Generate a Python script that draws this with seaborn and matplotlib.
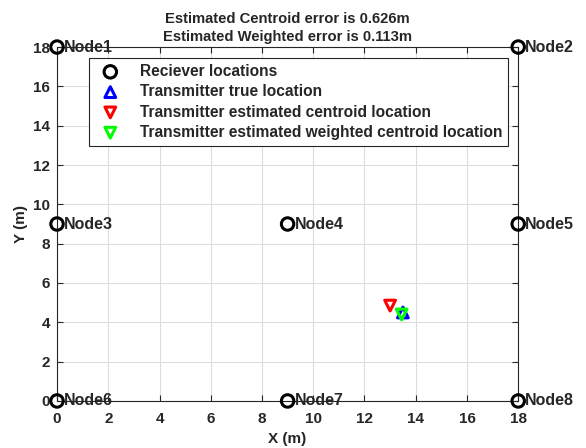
import matplotlib
matplotlib.use("Agg")
import matplotlib.pyplot as plt
import seaborn as sns
import pandas as pd

sns.set_style("whitegrid")
plt.rcParams['font.family'] = ['Liberation Sans', 'DejaVu Sans']
plt.rcParams['font.weight'] = 'bold'

node_names = ["Node1", "Node2", "Node3", "Node4", "Node5", "Node6", "Node7", "Node8"]
node_x = [0, 18, 0, 9, 18, 0, 9, 18]
node_y = [18, 18, 9, 9, 9, 0, 0, 0]
true_x, true_y = [13.5], [4.5]
cent_x, cent_y = [13.0], [4.85]
wcent_x, wcent_y = [13.45], [4.4]
xticks = [0, 2, 4, 6, 8, 10, 12, 14, 16, 18]
yticks = [0, 2, 4, 6, 8, 10, 12, 14, 16, 18]

fig = plt.figure(figsize=(5.86, 4.48), dpi=100)
ax = fig.add_axes([0.0973, 0.105, 0.787, 0.79])

nodes = pd.DataFrame({"x": node_x, "y": node_y, "name": node_names})
sns.scatterplot(data=nodes, x="x", y="y", ax=ax, marker="o", s=80, facecolor="none",
                edgecolor="black", linewidth=2.2, label="Reciever locations", zorder=5, clip_on=False)
sns.scatterplot(x=true_x, y=true_y, ax=ax, marker="^", s=60, facecolor="none",
                edgecolor="blue", linewidth=2.2, label="Transmitter true location", zorder=6)
sns.scatterplot(x=cent_x, y=cent_y, ax=ax, marker="v", s=60, facecolor="none",
                edgecolor="red", linewidth=2.2, label="Transmitter estimated centroid location", zorder=6)
sns.scatterplot(x=wcent_x, y=wcent_y, ax=ax, marker="v", s=60, facecolor="none",
                edgecolor="#00ff00", linewidth=2.2, label="Transmitter estimated weighted centroid location", zorder=7)

for _, r in nodes.iterrows():
    ax.annotate(r["name"], (r["x"], r["y"]), xytext=(5, 0), textcoords="offset points",
                va="center", ha="left", fontsize=11.5, fontweight="bold", zorder=8,
                annotation_clip=False)

ax.set_xlim(0, 18)
ax.set_ylim(0, 18)
ax.set_xticks(xticks)
ax.set_yticks(yticks)
ax.set_xticklabels([str(t) for t in xticks], fontsize=11, fontweight="bold")
ax.set_yticklabels([str(t) for t in yticks], fontsize=11, fontweight="bold")
ax.tick_params(axis="x", direction="in", length=4, pad=8, colors="#262626", bottom=True, top=True)
ax.tick_params(axis="y", direction="in", length=4, pad=5, colors="#262626", left=True, right=True)
ax.grid(True, color="#dcdcdc", linewidth=0.8)
for s in ax.spines.values():
    s.set_color("#262626")
    s.set_linewidth(0.8)
    s.set_visible(True)
ax.set_xlabel("X (m)", fontsize=11, fontweight="bold", labelpad=4)
ax.set_ylabel("Y (m)", fontsize=11, fontweight="bold", labelpad=4)
ax.set_title("Estimated Centroid error is 0.626m\nEstimated Weighted error is 0.113m",
             fontsize=10.6, fontweight="bold", pad=4, linespacing=1.4)

leg = ax.legend(loc="upper left", bbox_to_anchor=(0.069, 0.969), fontsize=11.2, frameon=True,
                fancybox=False, edgecolor="#262626", framealpha=1, borderpad=0.38,
                labelspacing=0.34, handletextpad=0.9, borderaxespad=0)
leg.get_frame().set_linewidth(0.8)

fig.savefig("out.png", dpi=100)
